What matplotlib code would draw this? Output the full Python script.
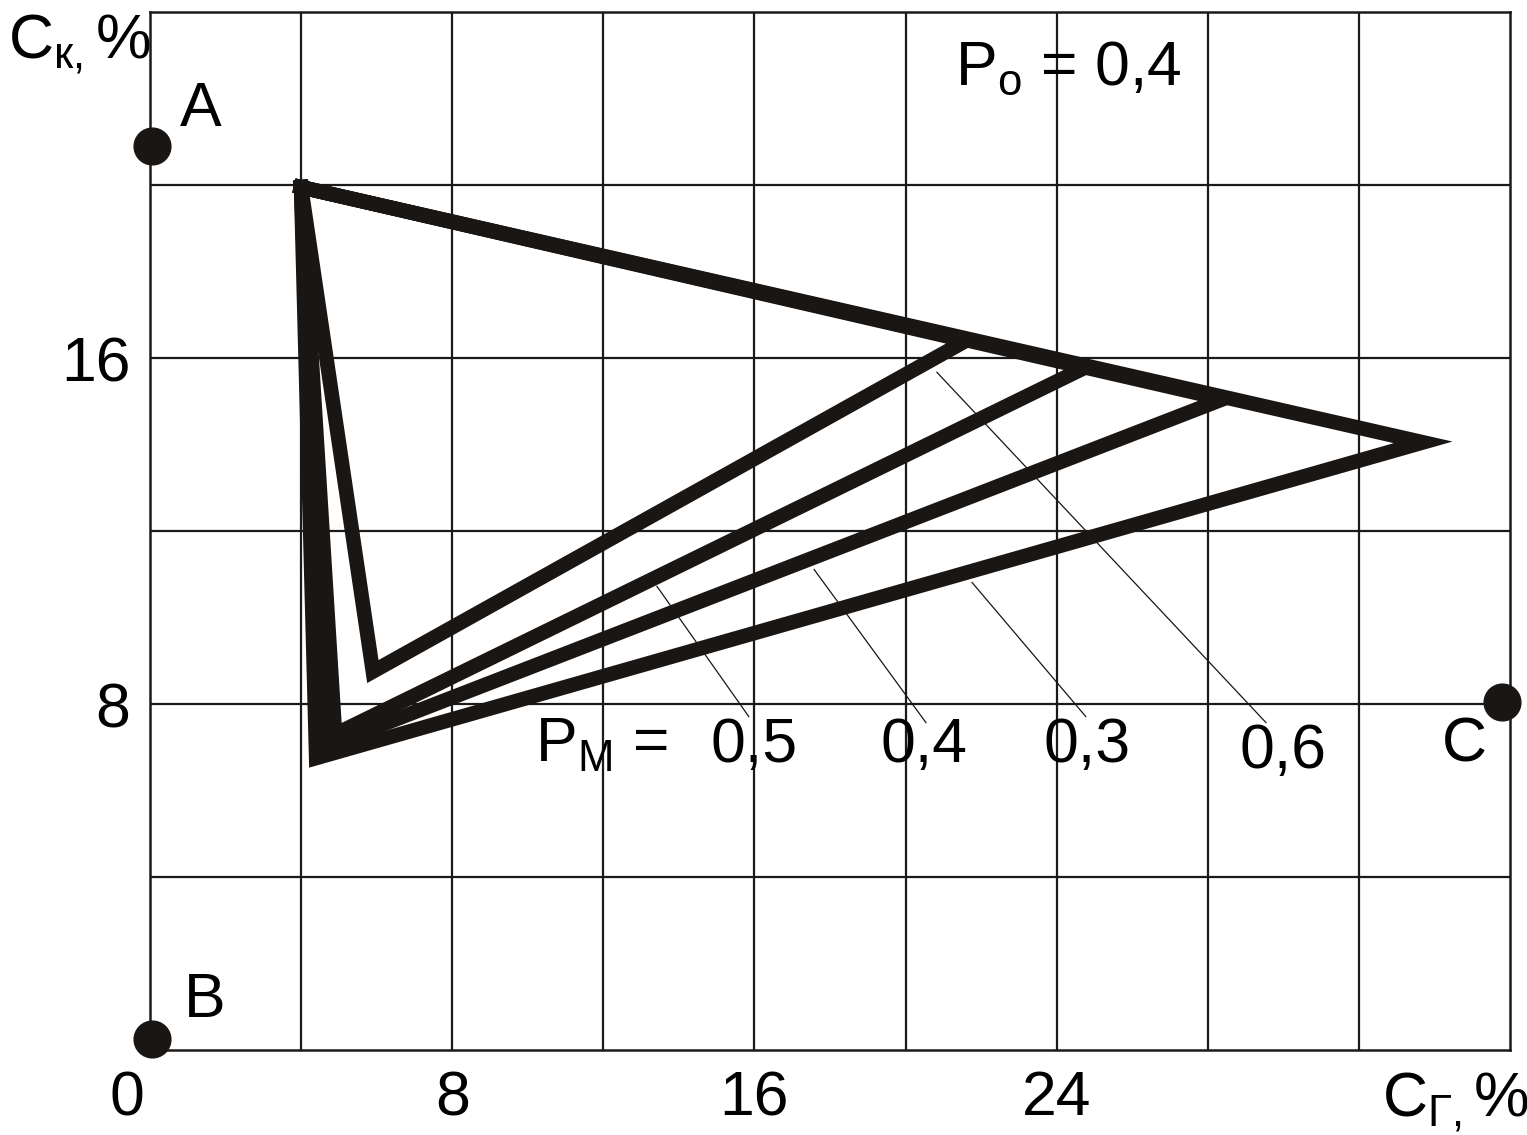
import matplotlib
matplotlib.use('Agg')
import matplotlib.pyplot as plt
import matplotlib.transforms as mtransforms

plt.rcParams['font.family'] = ['Liberation Sans', 'DejaVu Sans']
plt.rcParams['mathtext.fontset'] = 'custom'
plt.rcParams['mathtext.rm'] = 'Liberation Sans'

# shared top vertex of all triangles
top_vertex = (4.0, 19.95)

# P_M values and triangle vertices (right vertex, bottom vertex)
pm_labels = ['0,6', '0,5', '0,4', '0,3']
right_x = [21.6, 24.8, 28.4, 33.7]
right_y = [16.4, 15.8, 15.05, 14.05]
bottom_x = [5.9, 4.9, 4.6, 4.4]
bottom_y = [8.75, 7.3, 7.0, 6.75]

# thin leader lines from label to triangle edge
leader_x0 = [20.83, 13.42, 17.58, 21.76]
leader_y0 = [15.67, 10.72, 11.11, 10.81]
leader_x1 = [29.54, 15.85, 20.54, 24.77]
leader_y1 = [7.57, 7.71, 7.57, 7.71]
label_x = [30.0, 16.0, 20.5, 24.8]
label_y = [6.9, 7.05, 7.05, 7.05]

# corner points of the diagram
point_names = ['A', 'B', 'C']
point_x = [0.05, 0.05, 35.8]
point_y = [20.9, 0.25, 8.05]
name_x = [0.8, 0.9, 34.2]
name_y = [21.75, 1.15, 7.05]

xticks = [0, 8, 16, 24]
yticks = [8, 16]

fig = plt.figure(figsize=(15.27, 11.35), dpi=100)
ax = fig.add_axes([0.0982, 0.0749, 0.8907, 0.9145])
ax.set_xlim(0, 36)
ax.set_ylim(0, 24)

for v in range(4, 36, 4):
    ax.axvline(v, color='#1a1a1a', lw=1.6, zorder=1)
for v in range(4, 24, 4):
    ax.axhline(v, color='#1a1a1a', lw=1.6, zorder=1)
for s in ax.spines.values():
    s.set_linewidth(1.8)
    s.set_color('#1a1a1a')

for i in range(len(pm_labels)):
    xs = [top_vertex[0], right_x[i], bottom_x[i], top_vertex[0]]
    ys = [top_vertex[1], right_y[i], bottom_y[i], top_vertex[1]]
    ax.plot(xs, ys, color='#1a1614', lw=10.5, solid_joinstyle='miter', zorder=3)
    ax.plot([leader_x0[i], leader_x1[i]], [leader_y0[i], leader_y1[i]],
            color='#1a1614', lw=0.9, zorder=2)
    ax.text(label_x[i], label_y[i], pm_labels[i], fontsize=45, ha='center',
            va='center', zorder=4)

ax.text(10.2, 7.05, r'P$_{\mathregular{M}}$ =', fontsize=45, ha='left',
        va='center', zorder=4)
ax.text(21.3, 22.7, r'P$_{\mathregular{o}}$ = 0,4', fontsize=45, ha='left',
        va='center', zorder=4)

ax.scatter(point_x, point_y, s=700, color='#1a1614', zorder=5, clip_on=False)
for n, x, y in zip(point_names, name_x, name_y):
    ax.text(x, y, n, fontsize=45, ha='left', va='center', zorder=4)

ax.text(-3.75, 23.25, r'C$_{\mathregular{к,}}$%', fontsize=45, ha='left',
        va='center', clip_on=False)
ax.text(32.6, -1.2, r'C$_{\mathregular{Г,}}$%', fontsize=45, ha='left',
        va='center', clip_on=False)

ax.set_xticks(xticks)
ax.set_xticklabels([str(t) for t in xticks])
ax.set_yticks(yticks)
ax.set_yticklabels([str(t) for t in yticks])
ax.tick_params(length=0, labelsize=45, pad=14)
lab0 = ax.get_xticklabels()[0]
lab0.set_transform(lab0.get_transform() +
                   mtransforms.ScaledTranslation(-0.23, 0, fig.dpi_scale_trans))

fig.savefig('out.png', dpi=100)
